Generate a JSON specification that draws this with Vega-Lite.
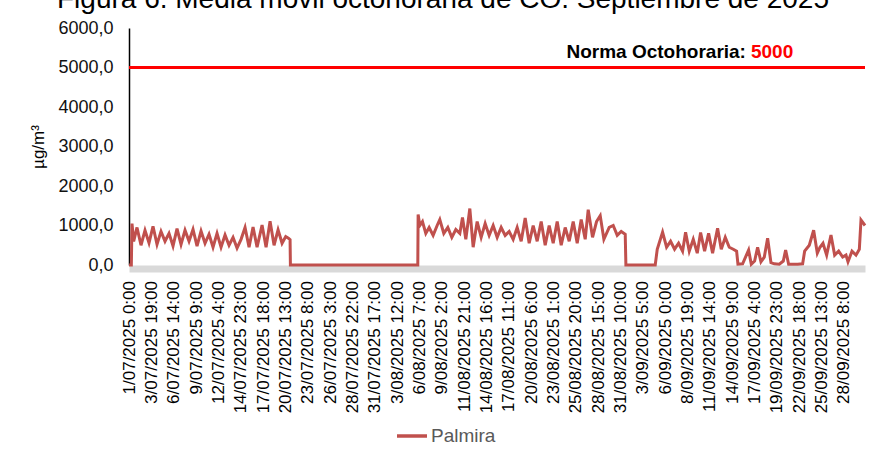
{
  "$schema": "https://vega.github.io/schema/vega-lite/v6.json",
  "width": 736,
  "height": 237,
  "autosize": {"type": "none"},
  "padding": {"left": 129, "top": 28, "right": 6, "bottom": 188},
  "background": "white",
  "title": {"text": "Figura 6. Media móvil octohoraria de CO. Septiembre de 2025", "fontSize": 28, "font": "Liberation Sans", "fontWeight": "normal", "color": "#000", "anchor": "middle", "frame": "group", "dx": -54, "offset": 5},
  "config": {"view": {"stroke": null}, "font": "Liberation Sans", "axis": {"labelOverlap": false, "labelBound": false, "labelFlush": false}},
  "layer": [
    {
      "data": {"values": [
        {"h":0,"v":0},{"h":7,"v":0},{"h":9,"v":1050},{"h":14,"v":600},{"h":24,"v":950},{"h":36,"v":500},{"h":48,"v":880},{"h":60,"v":560},{"h":72,"v":980},{"h":84,"v":520},{"h":96,"v":850},{"h":108,"v":600},{"h":120,"v":800},{"h":132,"v":480},{"h":144,"v":920},{"h":156,"v":520},{"h":168,"v":880},{"h":180,"v":600},{"h":192,"v":900},{"h":204,"v":480},{"h":216,"v":860},{"h":228,"v":550},{"h":240,"v":780},{"h":252,"v":450},{"h":264,"v":800},{"h":276,"v":450},{"h":288,"v":760},{"h":300,"v":500},{"h":312,"v":700},{"h":324,"v":430},{"h":336,"v":650},{"h":348,"v":950},{"h":360,"v":450},{"h":372,"v":960},{"h":384,"v":450},{"h":399,"v":1010},{"h":411,"v":450},{"h":423,"v":1110},{"h":435,"v":500},{"h":447,"v":890},{"h":459,"v":550},{"h":470,"v":720},{"h":478,"v":680},{"h":483,"v":640},{"h":484,"v":0},
        {"h":866,"v":0},{"h":867,"v":1280},{"h":872,"v":1000},{"h":880,"v":1100},{"h":890,"v":800},{"h":900,"v":950},{"h":912,"v":750},{"h":924,"v":1000},{"h":932,"v":1150},{"h":944,"v":800},{"h":956,"v":950},{"h":968,"v":700},{"h":980,"v":900},{"h":992,"v":800},{"h":1000,"v":1200},{"h":1010,"v":650},{"h":1022,"v":1430},{"h":1032,"v":450},{"h":1044,"v":1100},{"h":1056,"v":700},{"h":1068,"v":1050},{"h":1080,"v":750},{"h":1092,"v":1000},{"h":1104,"v":700},{"h":1116,"v":950},{"h":1128,"v":750},{"h":1140,"v":850},{"h":1152,"v":650},{"h":1164,"v":950},{"h":1176,"v":600},{"h":1188,"v":1190},{"h":1200,"v":550},{"h":1212,"v":1000},{"h":1224,"v":600},{"h":1236,"v":1100},{"h":1248,"v":500},{"h":1260,"v":1000},{"h":1272,"v":550},{"h":1284,"v":1100},{"h":1296,"v":500},{"h":1308,"v":950},{"h":1320,"v":600},{"h":1332,"v":1100},{"h":1344,"v":550},{"h":1356,"v":1150},{"h":1368,"v":650},{"h":1377,"v":1400},{"h":1390,"v":700},{"h":1402,"v":1100},{"h":1413,"v":1250},{"h":1424,"v":650},{"h":1440,"v":950},{"h":1452,"v":1000},{"h":1464,"v":750},{"h":1476,"v":850},{"h":1488,"v":780},{"h":1490,"v":0},
        {"h":1578,"v":0},{"h":1584,"v":400},{"h":1600,"v":830},{"h":1612,"v":450},{"h":1624,"v":600},{"h":1636,"v":400},{"h":1648,"v":550},{"h":1660,"v":350},{"h":1669,"v":830},{"h":1680,"v":350},{"h":1692,"v":650},{"h":1704,"v":300},{"h":1714,"v":820},{"h":1726,"v":350},{"h":1738,"v":800},{"h":1750,"v":300},{"h":1765,"v":930},{"h":1776,"v":400},{"h":1788,"v":700},{"h":1800,"v":450},{"h":1812,"v":400},{"h":1822,"v":350},{"h":1826,"v":20},{"h":1840,"v":30},{"h":1858,"v":380},{"h":1866,"v":20},{"h":1876,"v":100},{"h":1885,"v":450},{"h":1895,"v":80},{"h":1905,"v":200},{"h":1915,"v":680},{"h":1925,"v":60},{"h":1935,"v":30},{"h":1950,"v":20},{"h":1962,"v":100},{"h":1969,"v":380},{"h":1978,"v":20},{"h":1990,"v":20},{"h":2005,"v":20},{"h":2020,"v":30},{"h":2026,"v":350},{"h":2040,"v":500},{"h":2053,"v":880},{"h":2064,"v":300},{"h":2072,"v":450},{"h":2081,"v":550},{"h":2092,"v":250},{"h":2105,"v":760},{"h":2116,"v":250},{"h":2128,"v":350},{"h":2140,"v":200},{"h":2150,"v":250},{"h":2156,"v":80},{"h":2168,"v":350},{"h":2180,"v":250},{"h":2190,"v":400},{"h":2195,"v":1140},{"h":2207,"v":1000}
      ]},
      "mark": {"type": "line", "strokeWidth": 3},
      "encoding": {
        "x": {"field": "h", "type": "quantitative", "scale": {"domain": [0, 2207], "nice": false, "zero": false},
          "axis": {"values": [0,67,134,201,268,335,402,469,536,603,670,737,804,871,938,1005,1072,1139,1206,1273,1340,1407,1474,1541,1608,1675,1742,1809,1876,1943,2010,2077,2144],
            "tickCount": 100,
            "labelExpr": "timeFormat(datetime(2025,6,1,datum.value),'%-d/%m/%Y %-H:%M')",
            "labelAngle": -90, "labelAlign": "right", "labelBaseline": "middle", "labelFontSize": 17, "labelColor": "#000",
            "ticks": false, "grid": false, "domainColor": "#d9d9d9", "domainWidth": 7, "offset": 3.5, "labelPadding": 12,
            "title": null, "labelOverlap": false, "labelBound": false, "labelFlush": false}},
        "y": {"field": "v", "type": "quantitative", "scale": {"domain": [0, 6000], "nice": false},
          "axis": {"values": [0,1000,2000,3000,4000,5000,6000], "tickCount": 100, "labelExpr": "replace(format(datum.value,'.1f'),'.',',')",
            "labelFontSize": 18, "labelColor": "#111", "ticks": false, "grid": false, "domainColor": "#000", "domainWidth": 1.5,
            "labelOverlap": false, "labelFlush": false, "labelBound": false,
            "title": "µg/m³", "titleFontSize": 17, "titleFontWeight": "normal", "titleColor": "#000", "titlePadding": 10, "labelPadding": 16}},
        "color": {"datum": "Palmira", "scale": {"range": ["#C0504D"]},
          "legend": {"orient": "none", "legendX": 266, "legendY": 391, "title": null, "symbolType": "stroke", "symbolStrokeWidth": 3.5, "symbolSize": 900, "labelFontSize": 19, "labelColor": "#595959", "labelOffset": 2}}
      }
    },
    {
      "data": {"values": [{}]},
      "mark": {"type": "rule", "color": "#FF0000", "strokeWidth": 3},
      "encoding": {"y": {"datum": 5000}}
    },
    {
      "data": {"values": [{"h": 1856, "v": 5000, "t": "Norma Octohoraria:"}]},
      "mark": {"type": "text", "align": "right", "baseline": "alphabetic", "dx": -2, "dy": -10, "fontSize": 19, "fontWeight": "bold", "color": "#000"},
      "encoding": {"x": {"field": "h", "type": "quantitative"}, "y": {"field": "v", "type": "quantitative"}, "text": {"field": "t"}}
    },
    {
      "data": {"values": [{"h": 1856, "v": 5000, "t": "5000"}]},
      "mark": {"type": "text", "align": "left", "baseline": "alphabetic", "dx": 3, "dy": -10, "fontSize": 19, "fontWeight": "bold", "color": "#FF0000"},
      "encoding": {"x": {"field": "h", "type": "quantitative"}, "y": {"field": "v", "type": "quantitative"}, "text": {"field": "t"}}
    }
  ]
}
